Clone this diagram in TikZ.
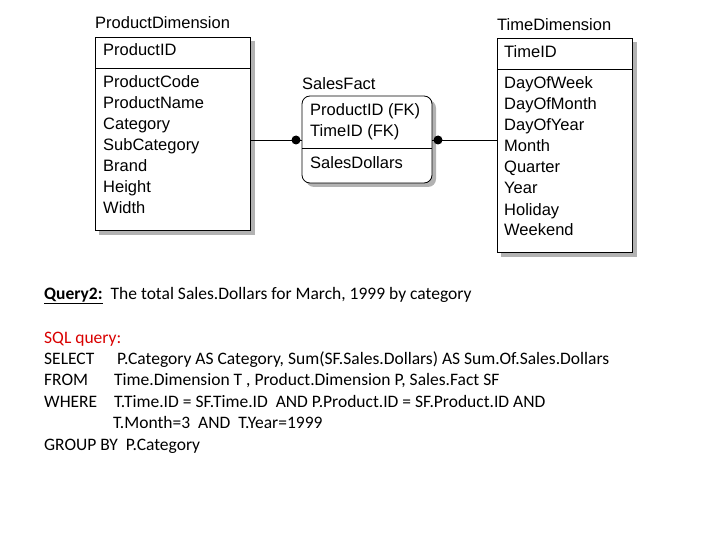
\documentclass[tikz,border=0pt]{standalone}
\usepackage{fontspec}
\setmainfont{Liberation Sans}
\newfontfamily\carfont{Carlito}
\begin{document}
\begin{tikzpicture}[x=1pt,y=-1pt,
  ent/.style={draw=black,line width=0.8pt,fill=white},
  shad/.style={fill=gray!60,draw=none},
  lbl/.style={anchor=west,inner sep=0pt,text height=11pt,text depth=3pt,font=\fontsize{16.5}{16.5}\selectfont},
  q/.style={anchor=west,inner sep=0pt,text height=11pt,text depth=4pt,font=\carfont\fontsize{17.5}{17.5}\selectfont},
  dotc/.style={circle,fill=black,inner sep=0pt,minimum size=9pt}]
\useasboundingbox (0,0) rectangle (720,540);
% Product dimension
\fill[shad] (99,41) rectangle (255,235);
\draw[ent] (95,37) rectangle (250,230);
\draw[line width=0.8pt] (95,68) -- (250,68);
\node[lbl] (pdt) at (95,25) {ProductDimension};
\node[lbl] (pid) at (103,52) {ProductID};
\foreach \t [count=\i] in {ProductCode,ProductName,Category,SubCategory,Brand,Height,Width}
  \node[lbl] (p\i) at (103,63+21*\i) {\t};
% Time dimension
\fill[shad] (501,42) rectangle (637,257);
\draw[ent] (497,38) rectangle (632,252);
\draw[line width=0.8pt] (497,69) -- (632,69);
\node[lbl] (tdt) at (497,27) {TimeDimension};
\node[lbl] (tid) at (504,54) {TimeID};
\foreach \t [count=\i] in {DayOfWeek,DayOfMonth,DayOfYear,Month,Quarter,Year,Holiday,Weekend}
  \node[lbl] (t\i) at (504,64+21*\i) {\t};
% Sales fact
\fill[shad,rounded corners=8pt] (306,100) rectangle (436,187);
\draw[ent,rounded corners=8pt] (302,96) rectangle (432,183);
\draw[line width=0.8pt] (302,148) -- (432,148);
\node[lbl] (sft) at (302,86) {SalesFact};
\node[lbl] (s1) at (310,112) {ProductID (FK)};
\node[lbl] (s2) at (310,133) {TimeID (FK)};
\node[lbl] (s3) at (310,165) {SalesDollars};
\coordinate (pr) at (250,140);
\coordinate (sl) at (302,140);
\coordinate (sr) at (432,140);
\coordinate (tl) at (497,140);
\draw[line width=0.8pt] (pr) -- (sl);
\draw[line width=0.8pt] (sr) -- (tl);
\node[dotc] (d1) at (296,140) {};
\node[dotc] (d2) at (438,140) {};
% Query text
\node[q] (qt) at (44,296) {\textbf{\underline{Query2:}}\hspace{8pt}The total Sales.Dollars for March, 1999 by category};
\node[q,text=red!85!black] (sq) at (44,340) {SQL query:};
\node[q] (l1) at (44,361) {SELECT};
\node[q] (l1b) at (117,361) {P.Category AS Category, Sum(SF.Sales.Dollars) AS Sum.Of.Sales.Dollars};
\node[q] (l2) at (44,382) {FROM};
\node[q] (l2b) at (114,382) {Time.Dimension T , Product.Dimension P, Sales.Fact SF};
\node[q] (l3) at (44,404) {WHERE};
\node[q] (l3b) at (114,404) {T.Time.ID = SF.Time.ID\ \ AND P.Product.ID = SF.Product.ID AND};
\node[q] (l4) at (113,425) {T.Month=3\ \ AND\ \ T.Year=1999};
\node[q] (l5) at (44,447) {GROUP BY\ \ P.Category};
\end{tikzpicture}
\end{document}
